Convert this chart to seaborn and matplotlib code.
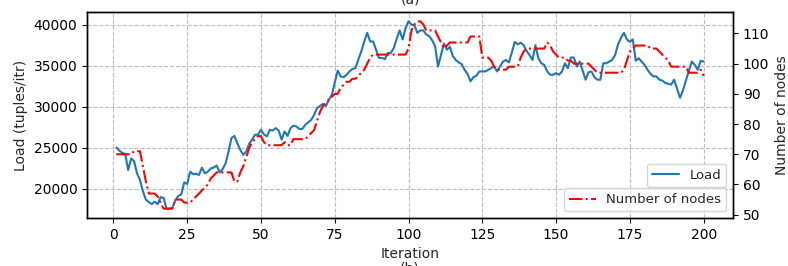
import matplotlib
matplotlib.use("Agg")
import matplotlib.pyplot as plt
import seaborn as sns
import pandas as pd

iterations = list(range(1, 201))

load = [
    25050, 24650, 24400, 24250, 22300, 23700, 23400, 21900, 21100, 19700,
    18700, 18400, 18150, 18450, 18150, 19000, 18900, 17600, 17600, 17700,
    18650, 19150, 19350, 20800, 20600, 22100, 21800, 21850, 21700, 22600,
    21900, 22100, 22500, 22600, 22850, 22000, 22400, 23100, 24550, 26200,
    26450, 25550, 24750, 24150, 24550, 25500, 26000, 26600, 26600, 27200,
    26650, 26400, 27200, 27100, 27400, 27100, 26000, 27000, 26450, 27400,
    27700, 27600, 27300, 27300, 27800, 28100, 28400, 29000, 29850, 30100,
    30350, 30100, 30850, 31450, 32900, 34400, 33700, 33600, 33900, 34300,
    34600, 34700, 35750, 36750, 37950, 39000, 37950, 37950, 36950, 35950,
    35950, 35800, 36550, 36550, 37150, 38300, 39300, 38200, 39600, 40400,
    40000, 39900, 39000, 39300, 39300, 38800, 38600, 38100, 37400, 34900,
    36300, 37700, 36950, 37300, 36200, 35700, 35400, 35200, 34500, 34000,
    33100, 33600, 33800, 34300, 34300, 34300, 34500, 34700, 34900, 34300,
    34900, 35500, 35700, 35400, 36600, 37900, 37600, 37800, 37500, 36800,
    36300, 35700, 37500, 35900, 35300, 35100, 34300, 33900, 33900, 34100,
    33900, 34300, 35300, 34700, 36000, 36000, 34900, 35500, 34400, 33300,
    34200, 34300, 33600, 33300, 33300, 35300, 35300, 35500, 35700, 36300,
    37600, 38400, 39000, 38200, 37900, 38200, 35600, 35900, 35500, 35100,
    34500, 34000, 33700, 33700, 33300, 33200, 32900, 32800, 32700, 33300,
    32200, 31100, 32000, 33200, 34400, 35500, 35100, 34500, 35600, 35500,
]

nodes = [
    70, 70, 70, 70, 70, 70, 71, 71, 71, 66,
    61, 57, 57, 57, 56, 54, 52, 52, 52, 52,
    55, 55, 55, 54, 54, 54, 55, 56, 57, 58,
    59, 60, 62, 63, 64, 64, 64, 64, 64, 64,
    61, 61, 64, 66, 69, 72, 74, 75, 76, 76,
    74, 73, 73, 73, 73, 73, 73, 74, 73, 73,
    75, 75, 75, 75, 75, 76, 77, 78, 81, 84,
    86, 87, 88, 89, 90, 90, 92, 93, 94, 94,
    95, 95, 96, 97, 98, 100, 102, 103, 103, 103,
    103, 103, 103, 103, 103, 103, 103, 103, 103, 105,
    111, 113, 114, 114, 113, 111, 111, 111, 111, 109,
    107, 105, 106, 107, 107, 107, 107, 107, 107, 107,
    109, 109, 109, 109, 102, 102, 102, 101, 99, 98,
    98, 98, 98, 99, 99, 99, 99, 102, 104, 105,
    105, 105, 105, 105, 105, 105, 107, 106, 104, 103,
    102, 102, 102, 101, 101, 100, 100, 100, 100, 100,
    100, 99, 98, 97, 97, 97, 97, 97, 97, 97,
    97, 97, 98, 101, 104, 105, 106, 106, 106, 106,
    106, 105, 105, 105, 104, 103, 102, 101, 99, 99,
    99, 99, 99, 99, 97, 97, 97, 97, 98, 96,
]

df = pd.DataFrame({"Iteration": iterations, "Load": load, "Nodes": nodes})

sns.set_theme(style="ticks")
plt.rcParams["font.family"] = ["DejaVu Sans"]
plt.rcParams["font.size"] = 10

fig = plt.figure(figsize=(7.88, 2.66), dpi=100)
ax = fig.add_axes([87 / 788, 1 - 218 / 266, (733 - 87) / 788, (218 - 12) / 266])

sns.lineplot(data=df, x="Iteration", y="Load", ax=ax, color="#1f77b4",
             linewidth=1.5, label="Load", legend=False)
ax.set_xlabel("Iteration", fontsize=10)
ax.set_ylabel("Load (tuples/itr)", fontsize=10)
ax.set_xticks([0, 25, 50, 75, 100, 125, 150, 175, 200])
ax.set_yticks([20000, 25000, 30000, 35000, 40000])
ax.grid(True, linestyle="--", color="#bdbdbd", linewidth=0.8)
ax.set_title("(a)", fontsize=10)
ax.tick_params(labelsize=10, length=3.5, width=0.8, colors="black")

ax2 = ax.twinx()
sns.lineplot(data=df, x="Iteration", y="Nodes", ax=ax2, color="red",
             linewidth=1.5, linestyle="-.", label="Number of nodes", legend=False)
ax2.set_ylabel("Number of nodes", fontsize=10)
ax2.set_yticks([50, 60, 70, 80, 90, 100, 110])
ax2.tick_params(labelsize=10, length=3.5, width=0.8, colors="black")
ax2.grid(False)

for a in (ax, ax2):
    for s in a.spines.values():
        s.set_visible(True)
        s.set_color("black")
        s.set_linewidth(1.0)

h1, l1 = ax.get_legend_handles_labels()
h2, l2 = ax2.get_legend_handles_labels()
leg1 = ax2.legend(h1, l1, loc="lower right", bbox_to_anchor=(1, 0.118),
                  fontsize=9.5, fancybox=True, framealpha=0.8)
ax2.add_artist(leg1)
ax2.legend(h2, l2, loc="lower right", fontsize=9.5, fancybox=True, framealpha=0.8)

fig.text(410 / 788, 1 - 262 / 266, "(b)", ha="center", va="top", fontsize=10)

fig.savefig("out.png", dpi=100)
